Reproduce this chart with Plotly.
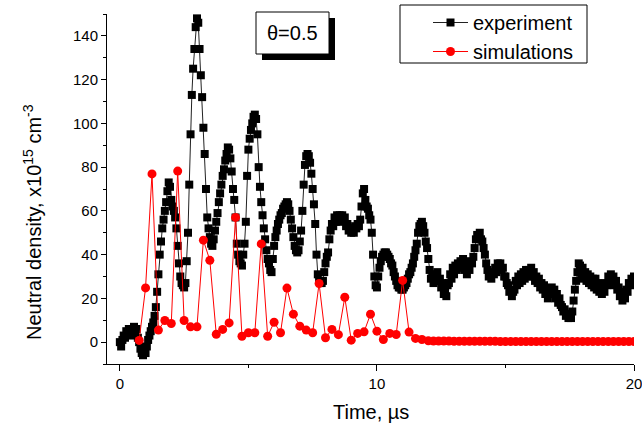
import plotly.graph_objects as go

# Measured neutral density (x10^15 cm^-3), sampled every 0.05 us from t = 0
EXP_T_START = 0.0
EXP_DT = 0.05
exp_density = [
    0, -2, 1, 3, 2, 5, 4, 6, 3, 6, 5, 7, 4, 6, 2, 0, -3, -5, -6, -4,
    -5, -2, 1, 3, 5, 7, 9, 12, 16, 23, 31, 40, 46, 52, 56, 60, 64, 69, 73, 71,
    65, 62, 60, 57, 52, 44, 36, 30, 27, 26, 25, 27, 37, 50, 72, 95, 113, 125, 134, 144,
    148, 146, 134, 122, 112, 98, 86, 70, 57, 52, 48, 45, 44, 47, 51, 55, 59, 64, 68, 72,
    76, 79, 83, 86, 89, 88, 84, 78, 70, 65, 57, 45, 40, 37, 36, 35, 40, 45, 55, 76,
    88, 93, 97, 100, 103, 104, 102, 95, 80, 71, 64, 58, 52, 47, 42, 38, 36, 33, 32, 38,
    44, 48, 51, 54, 56, 58, 59, 61, 62, 63, 64, 63, 60, 56, 52, 48, 44, 42, 41, 42,
    46, 51, 60, 72, 81, 85, 86, 85, 82, 77, 70, 63, 54, 40, 31, 28, 27, 27, 28, 32,
    36, 39, 41, 47, 51, 54, 53, 57, 55, 58, 56, 58, 55, 58, 56, 57, 53, 54, 51, 52,
    50, 52, 50, 53, 52, 54, 53, 56, 62, 68, 70, 65, 62, 61, 58, 56, 50, 40, 30, 26,
    25, 30, 34, 37, 39, 40, 41, 41, 40, 39, 38, 36, 35, 32, 30, 28, 26, 25, 25, 24,
    24, 25, 26, 27, 29, 31, 32, 34, 36, 39, 42, 45, 50, 53, 54, 55, 53, 50, 46, 43,
    38, 33, 29, 31, 27, 31, 28, 32, 28, 29, 25, 27, 22, 24, 21, 26, 27, 31, 29, 34,
    31, 35, 33, 36, 34, 37, 35, 38, 33, 35, 31, 35, 33, 37, 36, 39, 43, 47, 49, 48,
    50, 47, 46, 43, 40, 36, 33, 30, 31, 29, 32, 31, 34, 32, 36, 34, 36, 33, 34, 30,
    30, 27, 26, 23, 24, 21, 23, 24, 28, 26, 30, 27, 31, 28, 32, 29, 33, 30, 33, 31,
    34, 30, 32, 28, 30, 27, 29, 25, 27, 24, 26, 22, 23, 20, 24, 22, 25, 22, 24, 20,
    22, 18, 20, 17, 16, 14, 15, 12, 13, 11, 12, 11, 14, 19, 24, 28, 32, 36, 35, 31,
    34, 29, 32, 28, 31, 27, 30, 26, 29, 25, 29, 24, 27, 23, 26, 22, 25, 23, 27, 26,
    30, 27, 31, 28, 30, 26, 28, 24, 25, 21, 23, 19, 21, 20, 24, 23, 27, 26, 29, 28,
    30,
]
exp_time = [round(EXP_T_START + i * EXP_DT, 2) for i in range(len(exp_density))]

# Simulated neutral density
sim_time = [
    0.75, 1.0, 1.25, 1.5, 1.75, 2.0, 2.25, 2.5, 2.75, 3.0, 3.25, 3.5, 3.75, 4.0,
    4.25, 4.5, 4.75, 5.0, 5.25, 5.5, 5.75, 6.0, 6.25, 6.5, 6.75, 7.0, 7.25, 7.5,
    7.75, 8.0, 8.25, 8.5, 8.75, 9.0, 9.25, 9.5, 9.75, 10.0, 10.25, 10.5, 10.75,
    11.0, 11.25, 11.5, 11.75, 12.0,
    12.2, 12.4, 12.6, 12.8, 13.0, 13.2, 13.4, 13.6, 13.8, 14.0, 14.2, 14.4, 14.6,
    14.8, 15.0, 15.2, 15.4, 15.6, 15.8, 16.0, 16.2, 16.4, 16.6, 16.8, 17.0, 17.2,
    17.4, 17.6, 17.8, 18.0, 18.2, 18.4, 18.6, 18.8, 19.0, 19.2, 19.4, 19.6, 19.8,
    20.0,
]
sim_density = [
    0.8, 24.8, 76.9, 5.5, 9.9, 8.5, 78.2, 9.9, 7.0, 7.0, 46.6, 37.4, 3.6, 5.8,
    8.8, 57.0, 2.7, 4.3, 4.3, 44.9, 2.7, 9.1, 4.3, 24.7, 12.8, 7.3, 5.5, 4.3,
    26.8, 2.0, 5.8, 3.4, 20.5, 0.9, 4.0, 4.7, 12.8, 5.0, 1.2, 4.0, 3.5,
    28.2, 4.6, 1.7, 1.2, 0.6,
    0.5, 0.5, 0.5, 0.5, 0.4, 0.4, 0.4, 0.4, 0.4, 0.4, 0.4, 0.4, 0.4,
    0.3, 0.3, 0.3, 0.3, 0.3, 0.3, 0.3, 0.3, 0.3, 0.3, 0.3, 0.3, 0.3,
    0.3, 0.3, 0.3, 0.3, 0.3, 0.3, 0.3, 0.3, 0.3, 0.3, 0.3, 0.3, 0.3,
    0.3,
]

x_ticks = [0, 10, 20]
x_minor = [5, 15]
y_ticks = [0, 20, 40, 60, 80, 100, 120, 140]
y_minor = [-10, 10, 30, 50, 70, 90, 110, 130, 150]

FONT = "Liberation Sans, Arial, sans-serif"
FIG_W, FIG_H = 642, 429

fig = go.Figure()
fig.add_trace(go.Scatter(
    x=exp_time, y=exp_density, mode="lines+markers", name="experiment",
    line=dict(color="#222222", width=1),
    marker=dict(symbol="square", size=8, color="black"),
))
fig.add_trace(go.Scatter(
    x=sim_time, y=sim_density, mode="lines+markers", name="simulations",
    line=dict(color="#ff0000", width=1),
    marker=dict(symbol="circle", size=9, color="#ff0000"),
))

axis_common = dict(
    showline=True, linecolor="black", linewidth=1, mirror=False,
    ticks="outside", tickcolor="black", tickwidth=1,
    showgrid=False, zeroline=False, ticklabeloverflow="allow",
    automargin=False,
    tickfont=dict(family=FONT, size=15, color="black"),
)
fig.update_xaxes(
    range=[-0.5, 20], tickmode="array", tickvals=x_ticks, ticklen=6,
    minor=dict(ticks="outside", tickmode="array", tickvals=x_minor, ticklen=3,
               tickcolor="black", showgrid=False),
    **axis_common,
)
fig.update_yaxes(
    range=[-10, 150], tickmode="array", tickvals=y_ticks, ticklen=5,
    minor=dict(ticks="outside", tickmode="array", tickvals=y_minor, ticklen=3,
               tickcolor="black", showgrid=False),
    **axis_common,
)

# Plot area spans 107..634 px horizontally and 14..364 px vertically
L, R, T, B = 107, 634, 14, 364
W, H = R - L, B - T


def px(x):
    return (x - L) / W


def py(y):
    return (B - y) / H


shapes = [
    # legend frame
    dict(type="rect", xref="paper", yref="paper",
         x0=px(400), x1=px(587), y0=py(63), y1=py(5),
         line=dict(color="black", width=1), fillcolor="rgba(0,0,0,0)", layer="above"),
    # label box shadow and box
    dict(type="rect", xref="paper", yref="paper",
         x0=px(262), x1=px(335), y0=py(60), y1=py(18),
         line=dict(color="black", width=0), fillcolor="black", layer="above"),
    dict(type="rect", xref="paper", yref="paper",
         x0=px(256), x1=px(329), y0=py(54), y1=py(12),
         line=dict(color="black", width=1), fillcolor="white", layer="above"),
]

annotations = [
    dict(text="θ=0.5", xref="paper", yref="paper", x=px(292.5), y=py(33),
         xanchor="center", yanchor="middle", showarrow=False,
         font=dict(family=FONT, size=20, color="black")),
    dict(text="Time, µs", xref="paper", yref="paper", x=px(371), y=py(412),
         xanchor="center", yanchor="middle", showarrow=False,
         font=dict(family=FONT, size=20, color="black")),
    dict(text="Neutral density, x10<sup>15</sup> cm<sup>-3</sup>",
         xref="paper", yref="paper", x=px(32), y=py(222), textangle=-90,
         xanchor="center", yanchor="middle", showarrow=False,
         font=dict(family=FONT, size=20, color="black")),
]

fig.update_layout(
    width=FIG_W, height=FIG_H,
    margin=dict(l=L, r=FIG_W - R, t=T, b=FIG_H - B, pad=0, autoexpand=False),
    paper_bgcolor="white", plot_bgcolor="white",
    font=dict(family=FONT, color="black"),
    showlegend=True,
    legend=dict(
        xref="container", yref="container",
        x=428 / FIG_W, y=1 - 3 / FIG_H, xanchor="left", yanchor="top",
        bgcolor="rgba(0,0,0,0)", borderwidth=0,
        font=dict(family=FONT, size=20, color="black"),
        itemwidth=35,
    ),
    shapes=shapes,
    annotations=annotations,
)

fig.write_html("out.html")
